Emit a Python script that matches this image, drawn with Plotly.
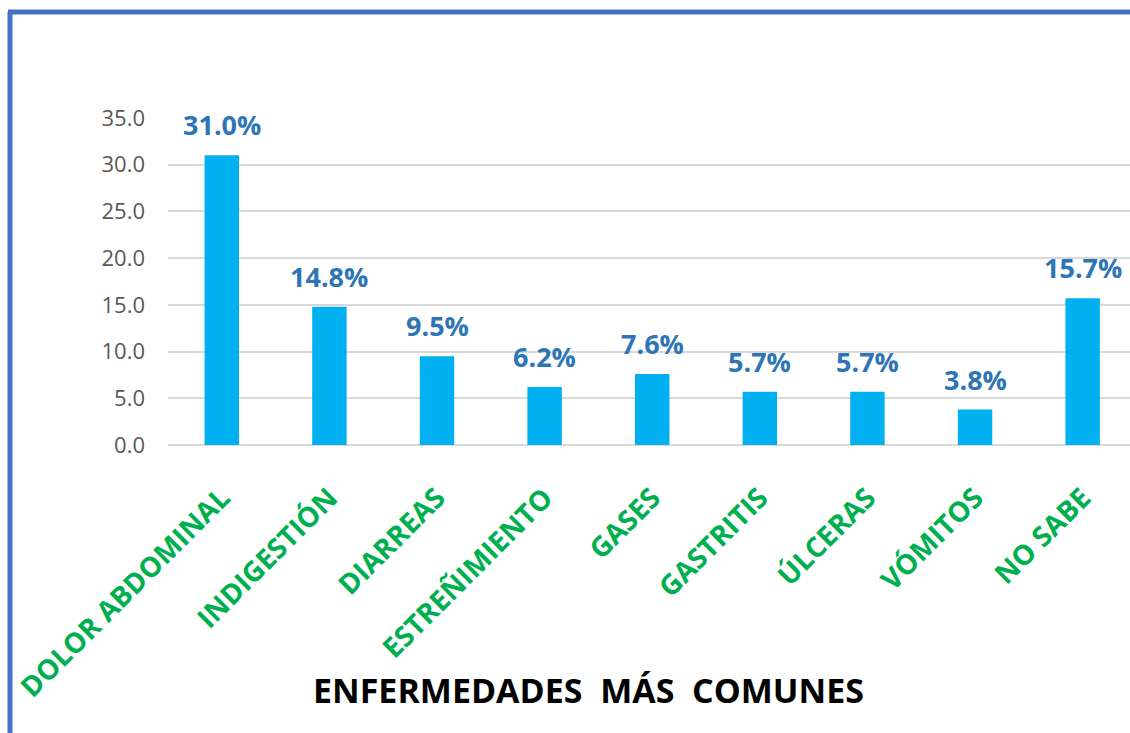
import plotly.graph_objects as go

categories = ["DOLOR ABDOMINAL", "INDIGESTIÓN", "DIARREAS", "ESTREÑIMIENTO", "GASES",
              "GASTRITIS", "ÚLCERAS", "VÓMITOS", "NO SABE"]
values = [31.0, 14.8, 9.5, 6.2, 7.6, 5.7, 5.7, 3.8, 15.7]
labels = [f"{v:.1f}%" for v in values]
y_ticks = [0, 5, 10, 15, 20, 25, 30, 35]
title_text = "ENFERMEDADES  MÁS  COMUNES"

W, H = 1130, 733
L, R, T, B = 168, 0, 118, 288
pw = W - L - R
ph = H - T - B

def px_x(p):
    return (p - L) / pw

def px_y(p):
    return (H - B - p) / ph

xs = list(range(len(categories)))

fig = go.Figure()
fig.add_trace(go.Bar(
    x=xs, y=values, width=0.32,
    marker=dict(color="#00B0F0", line=dict(width=0)),
    hoverinfo="skip",
))

annotations = [dict(x=x, y=v, text=t, xref="x", yref="y", showarrow=False,
                    xanchor="center", yanchor="bottom", yshift=10,
                    font=dict(family="Open Sans", size=27, color="#2E75B6", weight="bold"))
               for x, v, t in zip(xs, values, labels)]
annotations.append(dict(text=title_text, xref="paper", yref="paper",
                        x=px_x(588), y=px_y(690), xanchor="center", yanchor="middle",
                        showarrow=False,
                        font=dict(family="Open Sans", size=34, color="black", weight="bold")))

fig.update_layout(
    width=W, height=H, margin=dict(l=L, r=R, t=T, b=B),
    paper_bgcolor="white", plot_bgcolor="white", showlegend=False,
    bargap=0.68, font=dict(family="Open Sans"),
    xaxis=dict(range=[-0.5, 8.44], tickmode="array", tickvals=xs,
               ticktext=categories, tickangle=-45, showgrid=False, zeroline=False,
               ticks="", ticklabelstandoff=30,
               tickfont=dict(family="Open Sans", size=28, color="#00B050", weight="bold")),
    yaxis=dict(range=[0, 35], tickmode="array", tickvals=y_ticks, tickformat=".1f",
               showgrid=True, gridcolor="#D9D9D9", gridwidth=2, zeroline=True,
               zerolinecolor="#D9D9D9", zerolinewidth=2, ticklabelstandoff=22,
               tickfont=dict(family="Open Sans", size=22, color="#595959")),
    annotations=annotations,
    shapes=[
        dict(type="line", xref="paper", yref="paper", x0=px_x(10), x1=px_x(10),
             y0=px_y(12), y1=px_y(740), line=dict(color="#4472C4", width=5)),
        dict(type="line", xref="paper", yref="paper", x0=px_x(8), x1=px_x(1140),
             y0=px_y(12), y1=px_y(12), line=dict(color="#4472C4", width=5)),
    ],
)

fig.write_html("out.html", config={"displayModeBar": False},
               post_script="document.body.style.margin='0px';document.body.style.overflow='hidden';")
